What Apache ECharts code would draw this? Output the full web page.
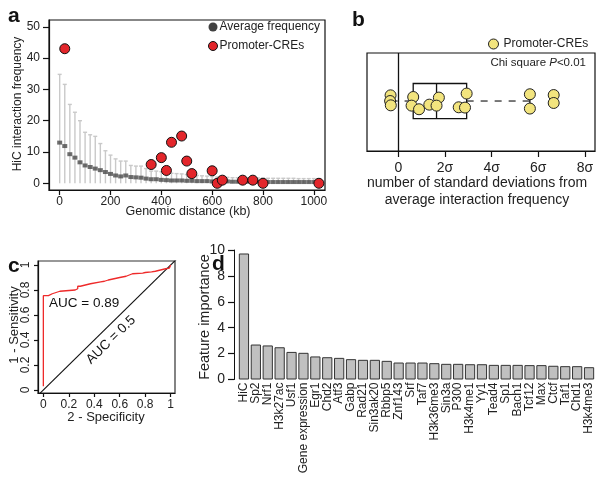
<!DOCTYPE html>
<html>
<head>
<meta charset="utf-8">
<script src="https://cdn.jsdelivr.net/npm/echarts@6/dist/echarts.min.js"></script>
<style>
html,body{margin:0;padding:0;background:#fff;}
#main{width:605px;height:484px;}
</style>
</head>
<body>
<div id="main"></div>
<script>
// ---------- Panel a data ----------
const distanceKb = [0,20,40,60,80,100,120,140,160,180,200,220,240,260,280,300,320,340,360,380,400,420,440,460,480,500,520,540,560,580,600,620,640,660,680,700,720,740,760,780,800,820,840,860,880,900,920,940,960,980,1000,1020];
const avgFreq = [13.0,11.9,9.3,8.2,6.7,5.7,5.2,4.7,4.2,3.6,3.0,2.5,2.2,2.5,2.0,1.9,1.8,1.5,1.3,1.3,1.1,1.0,0.9,0.9,0.9,0.8,0.8,0.7,0.7,0.7,0.6,0.6,0.6,0.6,0.5,0.5,0.5,0.5,0.5,0.5,0.5,0.4,0.4,0.4,0.4,0.4,0.4,0.4,0.4,0.4,0.4,0.4];
const errUpper = [34.8,31.6,25.2,22.7,20.0,16.3,15.5,15.0,12.7,10.4,9.0,7.8,7.1,7.1,5.7,5.5,5.5,4.7,3.9,3.9,3.7,3.4,3.2,3.1,3.0,2.8,2.6,2.5,2.4,2.3,2.1,2.0,1.9,1.9,1.8,1.8,1.8,1.7,1.7,1.7,1.7,1.6,1.6,1.6,1.6,1.6,1.6,1.5,1.5,1.5,1.5,1.5];
const creDist = [20,360,400,420,440,480,500,520,600,620,640,720,760,800,1020];
const creFreq = [43,6.0,8.2,4.1,13.1,15.1,7.1,3.1,4.0,0,1.0,1.0,1.0,0,0];
const xTicksA = [0,200,400,600,800,1000];
const yTicksA = [0,10,20,30,40,50];

// ---------- Panel b data ----------
const sigmaX = [-0.33,-0.35,-0.32,0.64,0.57,0.89,1.33,1.74,1.64,2.59,2.93,2.86,5.64,5.64,6.66,6.66];
const jitterY = [5.68,5.10,4.66,5.51,4.63,4.26,4.73,5.45,4.63,4.46,5.86,4.43,5.79,4.33,5.71,4.90];
const boxStats = [-0.33,0.64,1.64,2.93,5.64]; // min, Q1, median, Q3, max
const xTicksB = [0,2,4,6,8];

// ---------- Panel c data ----------
const rocFPR = [0,0,0.04,0.04,0.07,0.07,0.10,0.10,0.13,0.13,0.25,0.25,0.27,0.27,0.29,0.29,0.33,0.33,0.37,0.37,0.45,0.48,0.48,0.51,0.51,0.60,0.60,0.65,0.65,0.70,0.78,0.80,0.85,0.88,0.92,0.96,0.99,1.0];
const rocTPR = [0.03,0.755,0.755,0.77,0.77,0.78,0.78,0.79,0.79,0.80,0.80,0.81,0.81,0.83,0.83,0.84,0.84,0.85,0.85,0.865,0.865,0.87,0.88,0.88,0.895,0.90,0.91,0.91,0.925,0.93,0.935,0.94,0.945,0.95,0.96,0.97,0.975,1.0];
const chanceX = [-0.05,1.05];
const chanceY = [-0.05,1.05];
const ticksC = [0,0.2,0.4,0.6,0.8,1];

// ---------- Panel d data ----------
const features = ['HiC','Sp2','Nrf1','H3k27ac','Usf1','Gene expression','Egr1','Chd2','Atf3','Gabp','Rad21','Sin3ak20','Rbbp5','Znf143','Srf','Taf7','H3k36me3','Sin3a','P300','H3k4me1','Yy1','Tead4','Sp1','Bach1','Tcf12','Max','Ctcf','Taf1','Chd1','H3k4me3'];
const importance = [9.73,2.70,2.63,2.49,2.13,2.06,1.78,1.72,1.67,1.57,1.52,1.52,1.44,1.31,1.31,1.31,1.26,1.21,1.21,1.18,1.18,1.13,1.13,1.13,1.11,1.11,1.06,1.03,1.03,0.95];

const FONT = 'Liberation Sans, Arial, Helvetica, sans-serif';
const TXT = '#222';

const chart = echarts.init(document.getElementById('main'));

function tickAxis(extra) {
  return Object.assign({
    type: 'value',
    splitLine: {show: false},
    axisLine: {show: true, onZero: false, lineStyle: {color: '#111', width: 1.2}},
  }, extra);
}

const option = {
  animation: false,
  backgroundColor: '#fff',
  textStyle: {fontFamily: FONT, color: TXT},
  grid: [
    {left: 49, top: 20, width: 276, height: 170, show: true, borderColor: '#111', borderWidth: 1.2, backgroundColor: 'transparent'},
    {left: 367, top: 53, width: 228, height: 98, show: true, borderColor: '#111', borderWidth: 1.2, backgroundColor: 'transparent'},
    {left: 38, top: 261, width: 137, height: 132, show: true, borderColor: '#333', borderWidth: 1.2, backgroundColor: 'transparent'},
    {left: 238, top: 250, width: 357, height: 129.5}
  ],
  xAxis: [
    tickAxis({gridIndex: 0, min: -42, max: 1044,
      axisTick: {show: true, length: 5, inside: false, customValues: xTicksA, lineStyle: {color: '#111', width: 1.2}},
      axisLabel: {customValues: xTicksA, fontSize: 12, color: TXT, margin: 6, fontFamily: FONT, formatter: v => String(v)}}),
    tickAxis({gridIndex: 1, min: -1.34, max: 8.43,
      axisTick: {show: true, length: 6, inside: false, customValues: xTicksB, lineStyle: {color: '#111', width: 1.2}},
      axisLabel: {customValues: xTicksB, fontSize: 14, color: TXT, margin: 10, fontFamily: FONT,
        formatter: v => v === 0 ? '0' : v + 'σ'}}),
    tickAxis({gridIndex: 2, min: -0.042, max: 1.034,
      axisTick: {show: true, length: 4, inside: false, customValues: ticksC, lineStyle: {color: '#111', width: 1.2}},
      axisLabel: {customValues: ticksC, fontSize: 12, color: TXT, margin: 6, fontFamily: FONT,
        formatter: v => String(v)}}),
    {gridIndex: 3, type: 'category', data: features,
      axisLine: {show: false}, axisTick: {show: false}, splitLine: {show: false},
      axisLabel: {rotate: 90, interval: 0, fontSize: 12, color: TXT, margin: 3, fontFamily: FONT}}
  ],
  yAxis: [
    tickAxis({gridIndex: 0, min: -2.14, max: 52.17,
      axisTick: {show: true, length: 6, inside: false, customValues: yTicksA, lineStyle: {color: '#111', width: 1.2}},
      axisLabel: {customValues: yTicksA, fontSize: 12, color: TXT, margin: 9, fontFamily: FONT, formatter: v => String(v)}}),
    {gridIndex: 1, type: 'value', min: 0, max: 10, show: false},
    tickAxis({gridIndex: 2, min: -0.024, max: 1.032,
      axisTick: {show: true, length: 4, inside: false, customValues: ticksC, lineStyle: {color: '#111', width: 1.2}},
      axisLabel: {customValues: ticksC, fontSize: 12, color: TXT, margin: 6, rotate: 90, fontFamily: FONT,
        formatter: v => String(v)}}),
    {gridIndex: 3, type: 'value', min: 0, max: 10, interval: 2, offset: 4,
      splitLine: {show: false},
      axisLine: {show: true, onZero: false, lineStyle: {color: '#111', width: 1}},
      axisTick: {show: true, length: 6, lineStyle: {color: '#111', width: 1.2}},
      axisLabel: {fontSize: 14, color: TXT, margin: 9, fontFamily: FONT}}
  ],
  legend: [
    {left: 208, top: 21, padding: 0, orient: 'vertical', itemWidth: 9, itemHeight: 9, itemGap: 7,
      textStyle: {fontSize: 12, color: TXT, fontFamily: FONT, padding: [0, 0, 0, -3]},
      data: [
        {name: 'Average frequency', icon: 'circle', itemStyle: {color: '#111', borderWidth: 0}},
        {name: 'Promoter-CREs', icon: 'circle', itemStyle: {color: '#e3262b', borderColor: '#111', borderWidth: 1}}
      ]},
    {left: 488, top: 38, padding: 0, orient: 'vertical', itemWidth: 10, itemHeight: 10,
      textStyle: {fontSize: 12, color: TXT, fontFamily: FONT},
      data: [
        {name: 'Promoter-CREs', icon: 'circle', itemStyle: {color: '#f2e47e', borderColor: '#222', borderWidth: 1}}
      ]}
  ],
  series: [
    // Panel a error bars
    {type: 'custom', name: 'sd', xAxisIndex: 0, yAxisIndex: 0, z: 1,
      data: distanceKb.map((d, i) => [d, errUpper[i]]),
      renderItem: function (params, api) {
        const x = api.value(0), hi = api.value(1);
        const p0 = api.coord([x, 0]);
        const p1 = api.coord([x, hi]);
        const st = {stroke: '#c9c9c9', lineWidth: 1.4};
        return {type: 'group', children: [
          {type: 'line', shape: {x1: p0[0], y1: p0[1], x2: p1[0], y2: p1[1]}, style: st},
          {type: 'line', shape: {x1: p1[0] - 2, y1: p1[1], x2: p1[0] + 2, y2: p1[1]}, style: st}
        ]};
      }},
    {type: 'scatter', name: 'Average frequency', xAxisIndex: 0, yAxisIndex: 0, z: 3,
      symbol: 'rect', symbolSize: [5, 4],
      itemStyle: {color: '#4a4a4a'},
      data: distanceKb.map((d, i) => [d, avgFreq[i]])},
    {type: 'scatter', name: 'Promoter-CREs', xAxisIndex: 0, yAxisIndex: 0, z: 4,
      symbol: 'circle', symbolSize: 10,
      itemStyle: {color: '#e3262b', borderColor: '#111', borderWidth: 1, opacity: 1},
      data: creDist.map((d, i) => [d, creFreq[i]])},
    // Panel b box plot
    {type: 'custom', name: 'box', xAxisIndex: 1, yAxisIndex: 1, z: 2,
      data: [boxStats],
      renderItem: function (params, api) {
        const mn = api.value(0), q1 = api.value(1), md = api.value(2), q3 = api.value(3), mx = api.value(4);
        const yc = 5.1, hh = 1.79, ch = 0.61;
        const tl = api.coord([q1, yc + hh]), br = api.coord([q3, yc - hh]);
        const mTop = api.coord([md, yc + hh]), mBot = api.coord([md, yc - hh]);
        const a = api.coord([mn, yc]), b1 = api.coord([q1, yc]), b2 = api.coord([q3, yc]), z = api.coord([mx, yc]);
        const capT = api.coord([mx, yc + ch]), capB = api.coord([mx, yc - ch]);
        const solid = {stroke: '#111', lineWidth: 1.3, fill: null};
        const dashed = {stroke: '#222', lineWidth: 1.2, lineDash: [7, 7]};
        return {type: 'group', children: [
          {type: 'line', shape: {x1: a[0], y1: a[1], x2: b1[0], y2: b1[1]}, style: dashed},
          {type: 'line', shape: {x1: b2[0], y1: b2[1], x2: z[0], y2: z[1]}, style: dashed},
          {type: 'line', shape: {x1: capT[0], y1: capT[1], x2: capB[0], y2: capB[1]}, style: solid},
          {type: 'rect', shape: {x: tl[0], y: tl[1], width: br[0] - tl[0], height: br[1] - tl[1]}, style: {stroke: '#111', lineWidth: 1.3, fill: '#fff'}},
          {type: 'line', shape: {x1: mTop[0], y1: mTop[1], x2: mBot[0], y2: mBot[1]}, style: solid}
        ]};
      },
      markLine: {silent: true, symbol: 'none', label: {show: false},
        lineStyle: {color: '#111', width: 1.3, type: 'solid'},
        data: [{xAxis: 0}]}},
    {type: 'scatter', name: 'Promoter-CREs', xAxisIndex: 1, yAxisIndex: 1, z: 5,
      symbol: 'circle', symbolSize: 11,
      itemStyle: {color: '#f2e47e', borderColor: '#222', borderWidth: 1, opacity: 1},
      data: sigmaX.map((x, i) => [x, jitterY[i]])},
    // Panel c
    {type: 'line', name: 'chance', xAxisIndex: 2, yAxisIndex: 2, showSymbol: false, clip: true,
      lineStyle: {color: '#111', width: 1.1}, itemStyle: {color: '#111'},
      data: chanceX.map((x, i) => [x, chanceY[i]])},
    {type: 'line', name: 'ROC', xAxisIndex: 2, yAxisIndex: 2, showSymbol: false, clip: true,
      lineStyle: {color: '#ee2a2a', width: 1.3}, itemStyle: {color: '#ee2a2a'},
      data: rocFPR.map((x, i) => [x, rocTPR[i]])},
    // Panel d
    {type: 'bar', name: 'importance', xAxisIndex: 3, yAxisIndex: 3,
      barCategoryGap: '14%',
      itemStyle: {color: '#c0c0c0', borderColor: '#333', borderWidth: 1},
      data: importance}
  ],
  graphic: [
    // panel letters
    {type: 'text', x: 8, y: 16.5, style: {text: 'a', font: 'bold 21px ' + FONT, fill: '#111', textVerticalAlign: 'middle'}},
    {type: 'text', x: 352, y: 20, style: {text: 'b', font: 'bold 21px ' + FONT, fill: '#111', textVerticalAlign: 'middle'}},
    {type: 'text', x: 8, y: 266, style: {text: 'c', font: 'bold 21px ' + FONT, fill: '#111', textVerticalAlign: 'middle'}},
    {type: 'text', x: 212, y: 264, style: {text: 'd', font: 'bold 21px ' + FONT, fill: '#111', textVerticalAlign: 'middle'}},
    // panel a titles
    {type: 'text', x: 18, y: 104, rotation: Math.PI / 2,
      style: {text: 'HiC interaction frequency', font: '12px ' + FONT, fill: TXT, textAlign: 'center', textVerticalAlign: 'middle'}},
    {type: 'text', x: 188, y: 212,
      style: {text: 'Genomic distance (kb)', font: '12.5px ' + FONT, fill: TXT, textAlign: 'center', textVerticalAlign: 'middle'}},
    // panel b texts
    {type: 'text', x: 586, y: 63,
      style: {text: 'Chi square {i|P}<0.01', font: '11.5px ' + FONT, fill: TXT, textAlign: 'right', textVerticalAlign: 'middle',
        rich: {i: {fontStyle: 'italic', fontSize: 11.5, fontFamily: FONT}}}},
    {type: 'text', x: 477, y: 192,
      style: {text: 'number of standard deviations from\naverage interaction frequency', font: '14px ' + FONT, fill: TXT,
        textAlign: 'center', textVerticalAlign: 'middle', lineHeight: 17}},
    // panel c texts
    {type: 'text', x: 49, y: 303,
      style: {text: 'AUC = 0.89', font: '13.5px ' + FONT, fill: '#111', textVerticalAlign: 'middle'}},
    {type: 'text', x: 111, y: 340, rotation: 0.77,
      style: {text: 'AUC = 0.5', font: '13.5px ' + FONT, fill: '#111', textAlign: 'center', textVerticalAlign: 'middle'}},
    {type: 'text', x: 14, y: 325, rotation: Math.PI / 2,
      style: {text: '1 - Sensitivity', font: '13px ' + FONT, fill: TXT, textAlign: 'center', textVerticalAlign: 'middle'}},
    {type: 'text', x: 106, y: 417,
      style: {text: '2 - Specificity', font: '13px ' + FONT, fill: TXT, textAlign: 'center', textVerticalAlign: 'middle'}},
    // panel d title
    {type: 'text', x: 205, y: 317, rotation: Math.PI / 2,
      style: {text: 'Feature importance', font: '14.5px ' + FONT, fill: TXT, textAlign: 'center', textVerticalAlign: 'middle'}}
  ]
};
chart.setOption(option);
</script>
</body>
</html>
